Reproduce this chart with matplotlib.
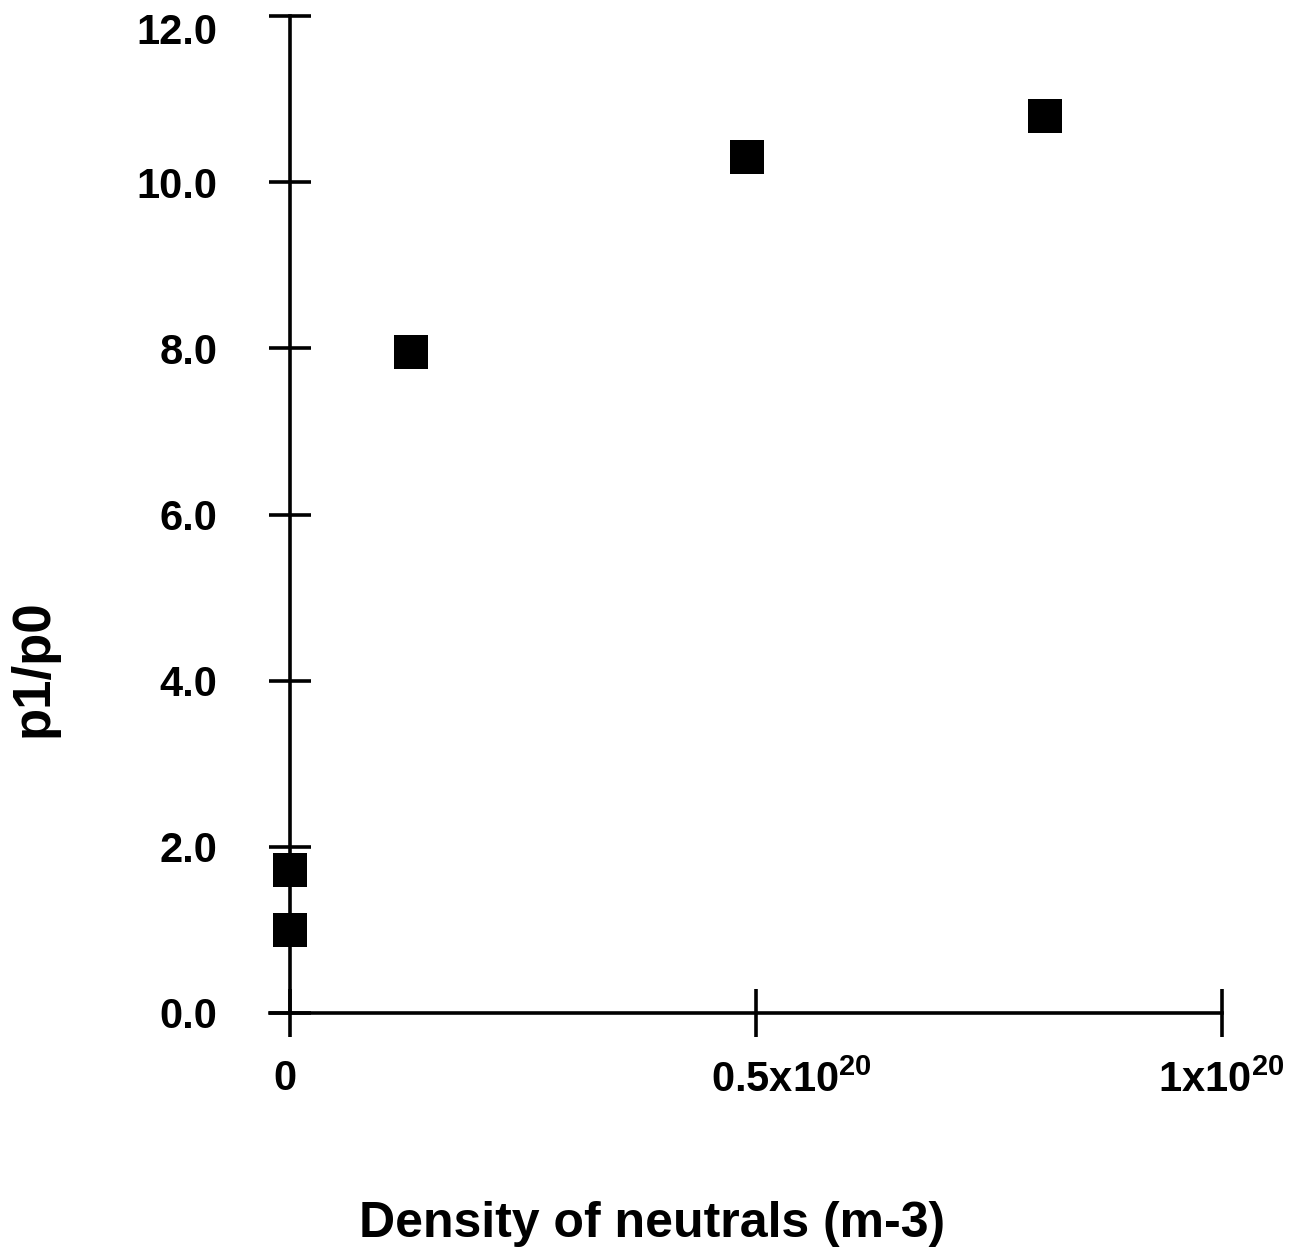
import matplotlib
matplotlib.use("Agg")
import matplotlib.pyplot as plt
import matplotlib.transforms as mtransforms

# data, density in units of 1e20 m-3
density = [0.0, 0.0, 0.13, 0.49, 0.81]
ratio = [1.0, 1.72, 7.95, 10.3, 10.8]

xticks = [0.0, 0.5, 1.0]
xtick_labels = ["0", "0.5x10$^{20}$", "1x10$^{20}$"]
yticks = [0, 2, 4, 6, 8, 10, 12]
ytick_labels = ["0.0", "2.0", "4.0", "6.0", "8.0", "10.0", "12.0"]

plt.rcParams['font.family'] = ['Liberation Sans', 'DejaVu Sans']
plt.rcParams['mathtext.fontset'] = 'custom'
plt.rcParams['mathtext.rm'] = 'Liberation Sans:bold'
plt.rcParams['mathtext.it'] = 'Liberation Sans:bold'
plt.rcParams['mathtext.bf'] = 'Liberation Sans:bold'

W, H = 1312, 1257
fig = plt.figure(figsize=(W / 100, H / 100), dpi=100)
# axes box in pixels: left 270, right 1222, top 16, bottom 1013
ax = fig.add_axes([270 / W, (H - 1013) / H, (1222 - 270) / W, (1013 - 16) / H])

ax.plot(density, ratio, 's', color='black', markersize=25,
        markeredgewidth=0, clip_on=False, zorder=5)

ax.set_xlim(-0.0214, 1.0)
ax.set_ylim(0, 12)

ax.spines['top'].set_visible(False)
ax.spines['right'].set_visible(False)
ax.spines['left'].set_position(('data', 0))
ax.spines['left'].set_linewidth(2.6)
ax.spines['bottom'].set_linewidth(2.6)

ax.set_xticks(xticks, xtick_labels)
ax.set_yticks(yticks, ytick_labels)
ax.tick_params(axis='y', direction='inout', length=30, width=2.6,
               pad=37, labelsize=30)
ax.tick_params(axis='x', direction='inout', length=34, width=2.6,
               pad=10, labelsize=30)
for lab in ax.get_yticklabels():
    lab.set_fontweight('bold')
# top label sits a bit under its tick in the original
top = ax.get_yticklabels()[-1]
top.set_transform(top.get_transform()
                  + mtransforms.ScaledTranslation(0, -0.12, fig.dpi_scale_trans))

ax.set_xlabel("Density of neutrals (m-3)", fontsize=36, fontweight='bold',
              va='center')
ax.xaxis.set_label_coords(652 / W, 1 - 1224 / H, transform=fig.transFigure)
ax.set_ylabel("p1/p0", fontsize=38, fontweight='bold', va='center')
ax.yaxis.set_label_coords(34 / W, 1 - 668 / H, transform=fig.transFigure)

# nudge the x tick labels the way the original sits them
offsets = [(-5, -8, 'center'), (-45, -10, 'left'), (-64, -10, 'left')]
for lab, (dx, dy, ha) in zip(ax.get_xticklabels(), offsets):
    lab.set_ha(ha)
    lab.set_fontweight('bold')
    off = mtransforms.ScaledTranslation(dx / 100, dy / 100, fig.dpi_scale_trans)
    lab.set_transform(lab.get_transform() + off)

fig.savefig("out.png", dpi=100, facecolor='white')
